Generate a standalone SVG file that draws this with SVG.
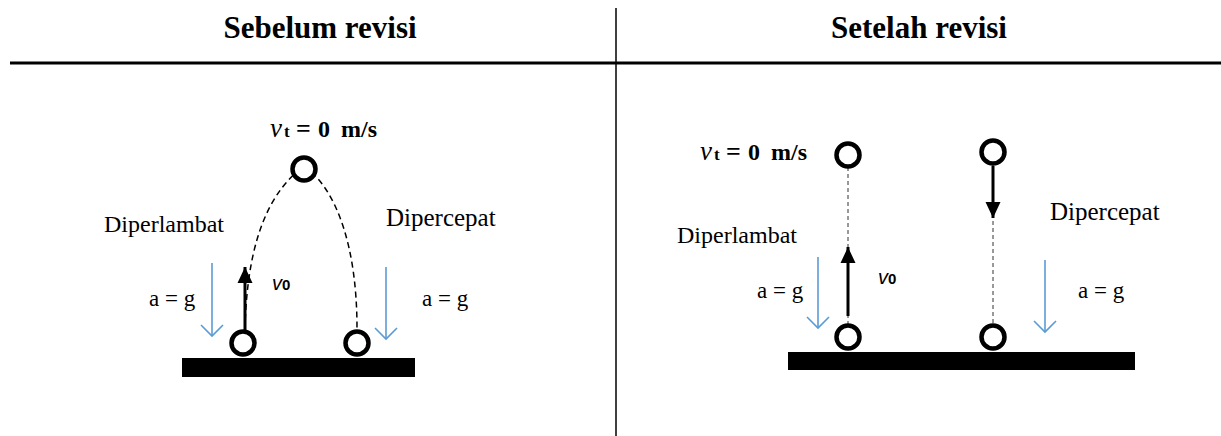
<svg xmlns="http://www.w3.org/2000/svg" width="1221" height="436" viewBox="0 0 1221 436">
<style>
.title{font-family:"Liberation Serif",serif;font-weight:bold;font-size:31px;fill:#000}
.lbl{font-family:"Liberation Serif",serif;font-size:24px;fill:#000}
.lbl2{font-family:"Liberation Serif",serif;font-size:25px;fill:#000}
.ag{font-family:"Liberation Serif",serif;font-size:23px;fill:#000}
.vt{font-family:"Liberation Serif",serif;font-weight:bold;font-size:24px;fill:#000}
.vi{font-style:italic;font-weight:normal;font-size:27px}
.sub{font-size:17px}
.eq{font-size:26px}
.v0{font-family:"Liberation Sans",sans-serif;font-style:italic;font-size:20px;fill:#000}
.z{font-style:normal;font-weight:bold;font-size:15px}
.ball{fill:#fff;stroke:#000;stroke-width:4.5}
.ground{fill:#000}
.acc{stroke:#5B9BD5;stroke-width:1.6;fill:none}
.vel{stroke:#000;stroke-width:3;fill:none}
.traj{stroke:#000;stroke-width:1.5;fill:none;stroke-dasharray:6 4}
.dot{stroke:#333;stroke-width:1;fill:none;stroke-dasharray:4 3}
</style>
<defs>
<marker id="ah" markerUnits="userSpaceOnUse" markerWidth="18" markerHeight="18" viewBox="0 0 18 18" refX="16" refY="9" orient="auto">
<path d="M0,1.5 L16,9 L0,16.5 Z" fill="#000"/>
</marker>
<marker id="bh" markerUnits="userSpaceOnUse" markerWidth="14" markerHeight="24" viewBox="0 0 14 24" refX="12" refY="12" orient="auto">
<path d="M1,1 L12,12 L1,23" fill="none" stroke="#5B9BD5" stroke-width="1.6"/>
</marker>
</defs>
<g id="frame">
<line x1="616" y1="8" x2="616" y2="436" stroke="#000" stroke-width="1.5"/>
<line x1="10" y1="63" x2="1221" y2="63" stroke="#000" stroke-width="3"/>
<text class="title" x="320" y="38" text-anchor="middle">Sebelum revisi</text>
<text class="title" x="919" y="38" text-anchor="middle">Setelah revisi</text>
</g>
<g id="connectors">
<path class="traj" d="M245,330 C247,235 272,190 304,166 C338,190 357,250 357,328"/>
<line class="dot" x1="848" y1="167" x2="848" y2="326"/>
<line class="dot" x1="993" y1="165" x2="993" y2="326"/>
<line class="vel" x1="245" y1="332" x2="245" y2="267" marker-end="url(#ah)"/>
<line class="vel" x1="848" y1="316" x2="848" y2="247" marker-end="url(#ah)"/>
<line class="vel" x1="993" y1="166" x2="993" y2="218" marker-end="url(#ah)"/>
<line class="acc" x1="212" y1="263" x2="212" y2="336" marker-end="url(#bh)"/>
<line class="acc" x1="386" y1="267" x2="386" y2="339" marker-end="url(#bh)"/>
<line class="acc" x1="818" y1="257" x2="818" y2="328" marker-end="url(#bh)"/>
<line class="acc" x1="1045" y1="260" x2="1045" y2="332" marker-end="url(#bh)"/>
</g>
<g id="before">
<rect class="ground" x="182" y="358" width="233" height="19"/>
<circle class="ball" cx="304" cy="169" r="11.5"/>
<circle class="ball" cx="243" cy="343" r="11.5"/>
<circle class="ball" cx="357" cy="343" r="11.5"/>
<text class="vt" y="137"><tspan class="vi" x="270">v</tspan><tspan class="sub" x="284">t</tspan><tspan class="eq" x="296">=</tspan><tspan x="318">0</tspan><tspan x="341">m/s</tspan></text>
<text class="lbl" x="104" y="232">Diperlambat</text>
<text class="lbl2" x="386" y="226">Dipercepat</text>
<text class="ag" x="149" y="306">a = g</text>
<text class="ag" x="422" y="306">a = g</text>
<text class="v0" x="272" y="290">v<tspan class="z">0</tspan></text>
</g>
<g id="after">
<rect class="ground" x="788" y="352" width="347" height="18"/>
<circle class="ball" cx="848" cy="155" r="11.5"/>
<circle class="ball" cx="848" cy="337" r="11.5"/>
<circle class="ball" cx="993" cy="152" r="11.5"/>
<circle class="ball" cx="993" cy="337" r="11.5"/>
<text class="vt" y="160"><tspan class="vi" x="700">v</tspan><tspan class="sub" x="714">t</tspan><tspan class="eq" x="726">=</tspan><tspan x="748">0</tspan><tspan x="771">m/s</tspan></text>
<text class="lbl" x="677" y="243">Diperlambat</text>
<text class="lbl2" x="1050" y="220">Dipercepat</text>
<text class="ag" x="757" y="298">a = g</text>
<text class="ag" x="1078" y="298">a = g</text>
<text class="v0" x="878" y="284">v<tspan class="z">0</tspan></text>
</g>
</svg>
